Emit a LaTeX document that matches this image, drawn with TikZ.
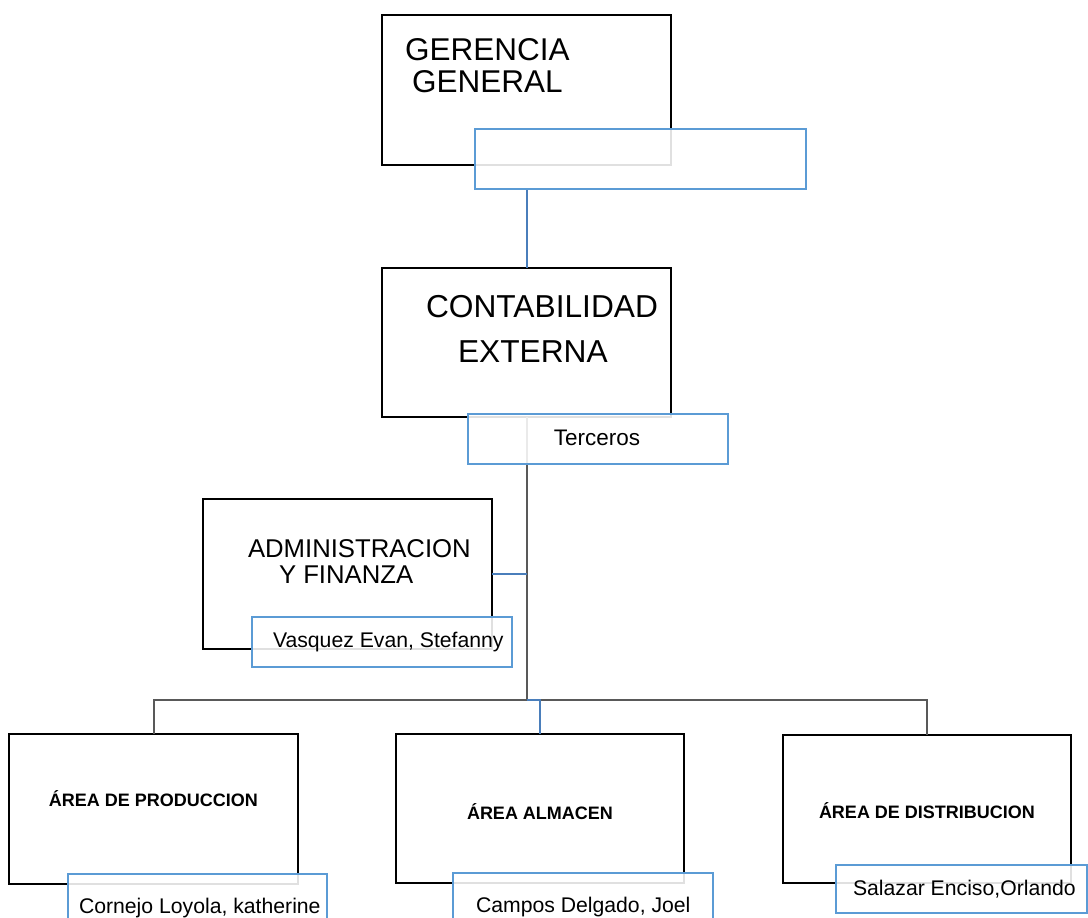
\documentclass[tikz,border=0pt]{standalone}
\usepackage{fontspec}
\setmainfont{Liberation Sans}
\definecolor{boxblue}{HTML}{5B9BD5}
\definecolor{linkblue}{HTML}{4A7EBB}
\definecolor{linkgray}{HTML}{595959}
\begin{document}
\begin{tikzpicture}[x=1pt,y=-1pt,
  blackbox/.style={draw=black,line width=2.2pt,rectangle,inner sep=0pt,outer sep=0pt},
  bluebox/.style={draw=boxblue,line width=2.2pt,rectangle,inner sep=0pt,outer sep=0pt,fill=white,fill opacity=0.88},
  txt/.style={inner sep=0pt,outer sep=0pt,anchor=base west},
  ctxt/.style={inner sep=0pt,outer sep=0pt,anchor=base},
  bluelink/.style={draw=linkblue,line width=2pt},
  graylink/.style={draw=linkgray,line width=2pt}]
\useasboundingbox (0,0) rectangle (1088,918);
\fill[white] (0,0) rectangle (1088,918);
% black boxes
\node[blackbox,minimum width=289pt,minimum height=150pt] (gg) at (526.5,90) {};
\node[blackbox,minimum width=289pt,minimum height=149pt] (ce) at (526.5,342.5) {};
\node[blackbox,minimum width=289pt,minimum height=150pt] (adm) at (347.5,574) {};
\node[blackbox,minimum width=289pt,minimum height=150pt] (prod) at (153.5,809) {};
\node[blackbox,minimum width=288pt,minimum height=149pt] (alm) at (540,808.5) {};
\node[blackbox,minimum width=288pt,minimum height=148pt] (dist) at (927,809) {};
% connectors
\coordinate (bar) at (526.5,700);
\draw[bluelink] (gg.south) ++(0,24) -- (ce.north);
\draw[graylink] (ce.south) -- (bar);
\draw[bluelink] (adm.east) -- (adm.east -| ce.south);
\draw[graylink] (bar) -| (prod.north);
\draw[graylink] (bar) -| (dist.north);
\draw[bluelink] (bar) -| (alm.north);
% blue boxes
\node[bluebox,minimum width=331pt,minimum height=60pt] (ggb) at (640.5,159) {};
\node[bluebox,minimum width=260pt,minimum height=50pt] (ceb) at (598,439) {};
\node[bluebox,minimum width=260pt,minimum height=50pt] (admb) at (382,642) {};
\node[bluebox,minimum width=259pt,minimum height=50pt] (prodb) at (197.5,899) {};
\node[bluebox,minimum width=260pt,minimum height=50pt] (almb) at (583,898) {};
\node[bluebox,minimum width=251pt,minimum height=48pt] (distb) at (961.5,889) {};
% texts
\node[txt,font=\fontsize{31.5}{36}\selectfont] (t1) at (405,60) {GERENCIA};
\node[txt,font=\fontsize{31.5}{36}\selectfont] (t2) at (412,92) {GENERAL};
\node[txt,font=\fontsize{31.7}{36}\selectfont] (t3) at (426,317) {CONTABILIDAD};
\node[txt,font=\fontsize{31.7}{36}\selectfont] (t4) at (458,362) {EXTERNA};
\node[txt,font=\fontsize{25.7}{30}\selectfont] (t5) at (248,557) {ADMINISTRACION};
\node[txt,font=\fontsize{25.7}{30}\selectfont] (t6) at (279,583) {Y FINANZA};
\node[ctxt,font=\fontsize{22.5}{26}\selectfont] (t7) at (597,445) {Terceros};
\node[txt,font=\fontsize{21.2}{25}\selectfont] (t8) at (273,647) {Vasquez Evan, Stefanny};
\node[ctxt,font=\bfseries\fontsize{18}{22}\selectfont] (t9) at (153.5,806) {ÁREA DE PRODUCCION};
\node[ctxt,font=\bfseries\fontsize{18}{22}\selectfont] (t10) at (540,819) {ÁREA ALMACEN};
\node[ctxt,font=\bfseries\fontsize{18}{22}\selectfont] (t11) at (927,818) {ÁREA DE DISTRIBUCION};
\node[txt,font=\fontsize{21.2}{25}\selectfont] (t12) at (79,913) {Cornejo Loyola, katherine};
\node[txt,font=\fontsize{21.2}{25}\selectfont] (t13) at (476,912) {Campos Delgado, Joel};
\node[txt,font=\fontsize{21.2}{25}\selectfont] (t14) at (853,895) {Salazar Enciso,Orlando};
\end{tikzpicture}
\end{document}
